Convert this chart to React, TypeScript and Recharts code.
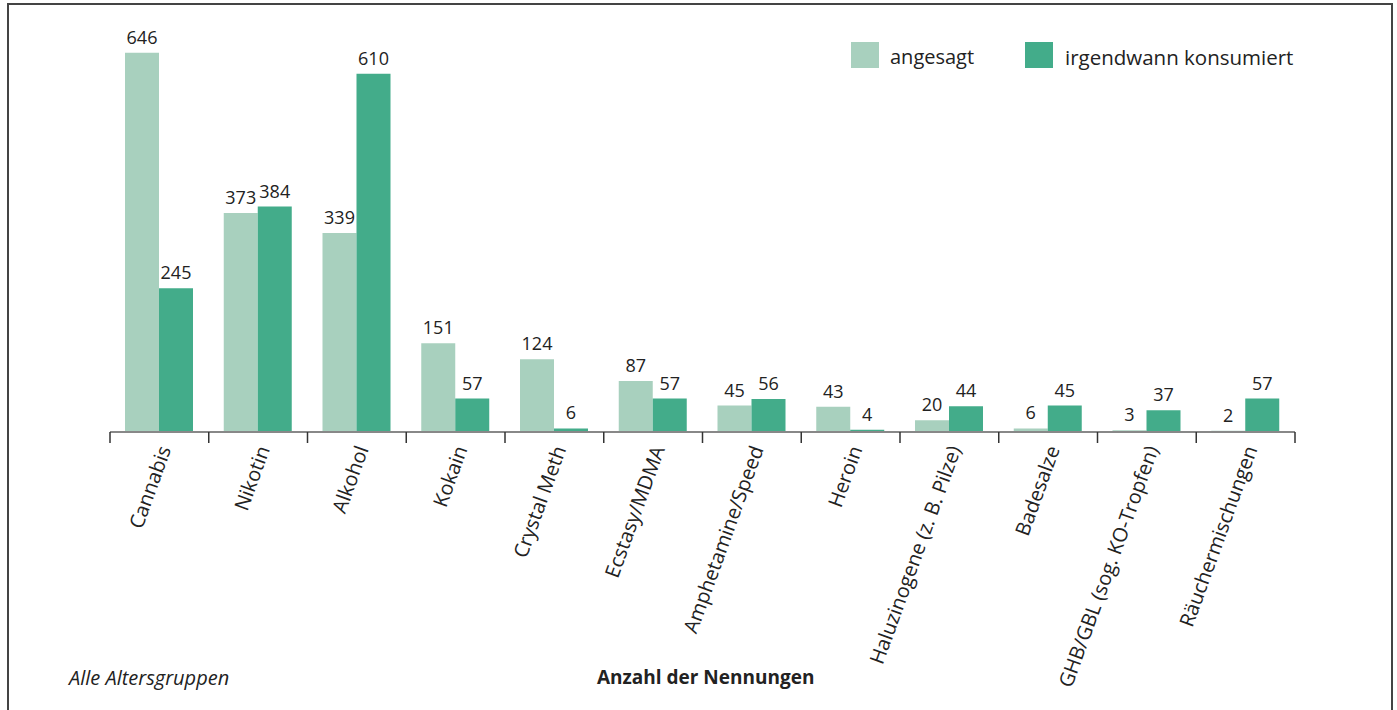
import React from 'react';
import { BarChart, Bar, XAxis, YAxis, LabelList } from 'recharts';

const categories = [
  'Cannabis',
  'Nikotin',
  'Alkohol',
  'Kokain',
  'Crystal Meth',
  'Ecstasy/MDMA',
  'Amphetamine/Speed',
  'Heroin',
  'Haluzinogene (z. B. Pilze)',
  'Badesalze',
  'GHB/GBL (sog. KO-Tropfen)',
  'Räuchermischungen',
];
const angesagt = [646, 373, 339, 151, 124, 87, 45, 43, 20, 6, 3, 2];
const konsumiert = [245, 384, 610, 57, 6, 57, 56, 4, 44, 45, 37, 57];

const data = categories.map((name, i) => ({
  name,
  angesagt: angesagt[i],
  konsumiert: konsumiert[i],
}));

const LIGHT = '#a8d0be';
const DARK = '#43ac8a';
const FONT = '"Open Sans", "Noto Sans", sans-serif';

const BAND = (1295 - 110) / categories.length;

const CategoryTick = (props: any) => {
  const { x, y, payload, index } = props;
  const left = x - BAND / 2;
  const tx = x + 12;
  const ty = y + 9;
  return (
    <g>
      <line x1={left} x2={left} y1={y - 8} y2={y + 3} stroke="#333" strokeWidth={1.5} />
      {index === categories.length - 1 && (
        <line x1={x + BAND / 2} x2={x + BAND / 2} y1={y - 8} y2={y + 3} stroke="#333" strokeWidth={1.5} />
      )}
      <text
        x={tx}
        y={ty}
        textAnchor="end"
        transform={`rotate(-70, ${tx}, ${ty})`}
        fontSize={20}
        fontFamily={FONT}
        fill="#222"
      >
        {payload.value}
      </text>
    </g>
  );
};

export default function App() {
  return (
    <div style={{ position: 'absolute', left: 0, top: 0, width: 1397, height: 710, background: '#fff', overflow: 'hidden' }}>
      <div
        style={{
          position: 'absolute',
          left: 7,
          top: 3,
          width: 1386,
          height: 720,
          border: '2px solid #444',
          boxSizing: 'border-box',
        }}
      />
      <BarChart
        width={1397}
        height={710}
        data={data}
        margin={{ top: 21, right: 102, bottom: 78, left: 110 }}
        barGap={0}
        barSize={34}
      >
        <YAxis hide domain={[0, 700]} />
        <XAxis
          dataKey="name"
          height={200}
          interval={0}
          tickLine={false}
          axisLine={{ stroke: '#888', strokeWidth: 2 }}
          tick={<CategoryTick />}
        />
        <Bar dataKey="angesagt" fill={LIGHT} isAnimationActive={false}>
          <LabelList dataKey="angesagt" position="top" offset={9} fontSize={18} fontFamily={FONT} fill="#222" />
        </Bar>
        <Bar dataKey="konsumiert" fill={DARK} isAnimationActive={false}>
          <LabelList dataKey="konsumiert" position="top" offset={9} fontSize={18} fontFamily={FONT} fill="#222" />
        </Bar>
      </BarChart>
      <div style={{ position: 'absolute', left: 851, top: 42, width: 28, height: 26, background: LIGHT }} />
      <div style={{ position: 'absolute', left: 890, top: 44, fontFamily: FONT, fontSize: 20, color: '#222', lineHeight: '26px' }}>
        angesagt
      </div>
      <div style={{ position: 'absolute', left: 1025, top: 42, width: 28, height: 26, background: DARK }} />
      <div style={{ position: 'absolute', left: 1065, top: 44, fontFamily: FONT, fontSize: 20.5, color: '#222', lineHeight: '26px' }}>
        irgendwann konsumiert
      </div>
      <div style={{ position: 'absolute', left: 69, top: 664, fontFamily: FONT, fontSize: 20, fontStyle: 'italic', color: '#222' }}>
        Alle Altersgruppen
      </div>
      <div style={{ position: 'absolute', left: 597, top: 664, fontFamily: FONT, fontSize: 19, fontWeight: 700, color: '#222' }}>
        Anzahl der Nennungen
      </div>
    </div>
  );
}
